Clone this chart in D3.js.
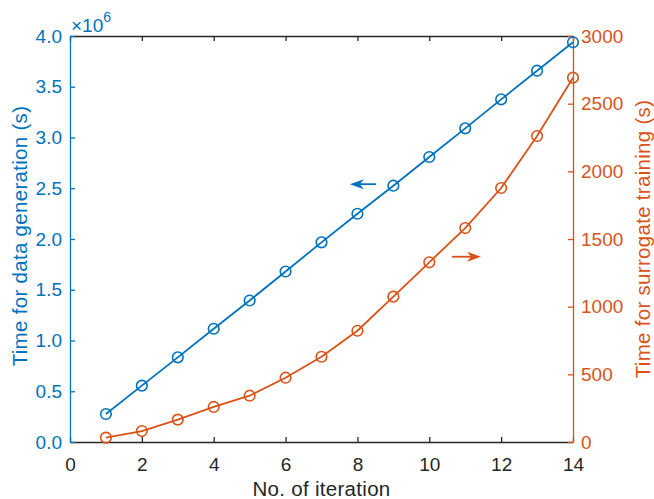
<!DOCTYPE html>
<meta charset="utf-8">
<style>
body {
  margin: 0;
  background: #fff;
  font-family: Arial, "Liberation Sans", Helvetica, sans-serif;
}
.title {
  font-size: 20.5px;
  letter-spacing: 0.3px;
}
</style>
<body>
<script src="https://d3js.org/d3.v7.min.js"></script>
<script>

var width = 654,
    height = 499;

var margin = {top: 36, right: 81, bottom: 57, left: 70};

// data
var iterations = [1, 2, 3, 4, 5, 6, 7, 8, 9, 10, 11, 12, 13, 14];
var dataGen = [0.276, 0.555, 0.834, 1.116, 1.394, 1.68, 1.967, 2.249, 2.525, 2.808, 3.09, 3.376, 3.658, 3.938]; // x 1e6 s
var surrogate = [32, 81, 165, 259, 342, 475, 630, 822, 1074, 1328, 1581, 1877, 2261, 2692]; // s

var xTicks = [0, 2, 4, 6, 8, 10, 12, 14];
var leftTicks = [0, 0.5, 1, 1.5, 2, 2.5, 3, 3.5, 4];
var rightTicks = [0, 500, 1000, 1500, 2000, 2500, 3000];

var blue = "#0072BD",
    orange = "#D95319",
    dark = "#262626";

var svg = d3.select("body").append("svg")
    .attr("width", width)
    .attr("height", height);

var x = d3.scaleLinear().domain([0, 14]).range([margin.left, width - margin.right]);
var yL = d3.scaleLinear().domain([0, 4]).range([height - margin.bottom, margin.top]);
var yR = d3.scaleLinear().domain([0, 3000]).range([height - margin.bottom, margin.top]);

var tick = 5;

function styleAxis(g, color, withText) {
  g.select(".domain").attr("stroke", color).attr("stroke-width", 1.3);
  g.selectAll(".tick line").attr("stroke", color).attr("stroke-width", 1.3);
  if (withText) g.selectAll("text").attr("fill", color).attr("font-size", 19).style("font-size", "19px");
}

// bottom axis
var xAxis = svg.append("g")
    .attr("transform", "translate(0," + yL(0) + ")")
    .call(d3.axisBottom(x).tickValues(xTicks).tickSizeInner(-tick).tickSizeOuter(0).tickPadding(16));
styleAxis(xAxis, dark, true);

// top axis (ticks only)
var topAxis = svg.append("g")
    .attr("transform", "translate(0," + yL(4) + ")")
    .call(d3.axisTop(x).tickValues(xTicks).tickSizeInner(-tick).tickSizeOuter(0).tickFormat(""));
styleAxis(topAxis, dark, false);

// left axis
var leftAxis = svg.append("g")
    .attr("transform", "translate(" + x(0) + ",0)")
    .call(d3.axisLeft(yL).tickValues(leftTicks).tickSizeInner(-tick).tickSizeOuter(0)
      .tickPadding(8).tickFormat(d3.format(".1f")));
styleAxis(leftAxis, blue, true);

// right axis
var rightAxis = svg.append("g")
    .attr("transform", "translate(" + x(14) + ",0)")
    .call(d3.axisRight(yR).tickValues(rightTicks).tickSizeInner(-tick).tickSizeOuter(0)
      .tickPadding(8).tickFormat(d3.format("d")));
styleAxis(rightAxis, orange, true);

// exponent label
var expo = svg.append("text")
    .attr("x", x(0) + 1)
    .attr("y", 32)
    .attr("fill", blue)
    .attr("font-size", 19)
    .style("font-size", "19px");
expo.append("tspan").text("\u00d710");
expo.append("tspan").attr("dy", -10).attr("font-size", 14).style("font-size", "14px").text("6");

// series
var lineL = d3.line().x(function(d, i) { return x(iterations[i]); }).y(function(d) { return yL(d); });
var lineR = d3.line().x(function(d, i) { return x(iterations[i]); }).y(function(d) { return yR(d); });

svg.append("path")
    .datum(dataGen)
    .attr("fill", "none")
    .attr("stroke", blue)
    .attr("stroke-width", 1.8)
    .attr("d", lineL);

svg.selectAll(".mL")
    .data(dataGen)
  .enter().append("circle")
    .attr("class", "mL")
    .attr("cx", function(d, i) { return x(iterations[i]); })
    .attr("cy", function(d) { return yL(d); })
    .attr("r", 5.3)
    .attr("fill", "none")
    .attr("stroke", blue)
    .attr("stroke-width", 1.6);

svg.append("path")
    .datum(surrogate)
    .attr("fill", "none")
    .attr("stroke", orange)
    .attr("stroke-width", 1.8)
    .attr("d", lineR);

svg.selectAll(".mR")
    .data(surrogate)
  .enter().append("circle")
    .attr("class", "mR")
    .attr("cx", function(d, i) { return x(iterations[i]); })
    .attr("cy", function(d) { return yR(d); })
    .attr("r", 5.3)
    .attr("fill", "none")
    .attr("stroke", orange)
    .attr("stroke-width", 1.6);

// arrows pointing to each axis
function arrow(x0, x1, y, color) {
  var dir = x1 > x0 ? 1 : -1;
  svg.append("line")
      .attr("x1", x0).attr("y1", y)
      .attr("x2", x1 - dir * 8).attr("y2", y)
      .attr("stroke", color)
      .attr("stroke-width", 1.8);
  svg.append("path")
      .attr("d", "M" + x1 + "," + y + "L" + (x1 - dir * 14) + "," + (y - 5) +
                 "L" + (x1 - dir * 10) + "," + y + "L" + (x1 - dir * 14) + "," + (y + 5) + "Z")
      .attr("fill", color);
}
arrow(x(8.52), x(7.79), yL(2.54), blue);
arrow(x(10.63), x(11.44), yR(1369), orange);

// axis titles
svg.append("text")
    .attr("class", "title")
    .attr("transform", "translate(" + ((x(0) + x(14)) / 2) + ",496)")
    .attr("text-anchor", "middle")
    .attr("fill", dark)
    .text("No. of iteration");

svg.append("text")
    .attr("class", "title")
    .attr("transform", "translate(27," + ((yL(0) + yL(4)) / 2 - 3) + ")rotate(-90)")
    .attr("text-anchor", "middle")
    .attr("fill", blue)
    .text("Time for data generation (s)");

svg.append("text")
    .attr("class", "title")
    .attr("transform", "translate(650," + ((yL(0) + yL(4)) / 2) + ")rotate(-90)")
    .attr("text-anchor", "middle")
    .attr("fill", orange)
    .text("Time for surrogate training (s)");

</script>
